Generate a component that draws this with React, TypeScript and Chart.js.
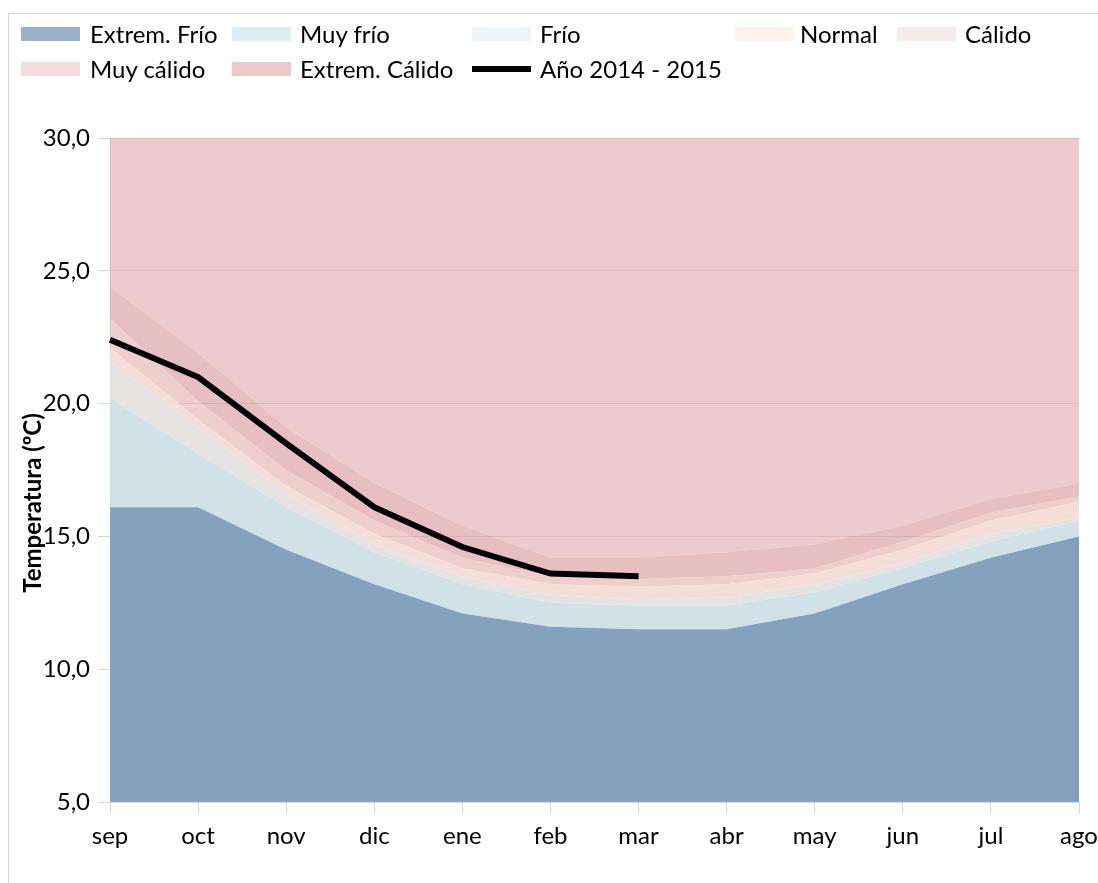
import React, { useEffect, useRef } from 'react';
import { Chart, registerables } from 'chart.js';

Chart.register(...registerables);

const months = ['sep', 'oct', 'nov', 'dic', 'ene', 'feb', 'mar', 'abr', 'may', 'jun', 'jul', 'ago'];

// Upper limit of each band (ºC)
const extremFrio = [16.1, 16.1, 14.5, 13.2, 12.1, 11.6, 11.5, 11.5, 12.1, 13.2, 14.2, 15.0];
const muyFrio = [20.2, 18.1, 16.1, 14.4, 13.2, 12.5, 12.4, 12.4, 12.9, 13.8, 14.8, 15.6];
const frio = [21.6, 19.1, 16.6, 14.7, 13.5, 12.8, 12.6, 12.7, 13.2, 14.0, 15.1, 15.7];
const normal = [22.1, 19.4, 16.9, 15.1, 13.8, 13.2, 13.1, 13.2, 13.6, 14.5, 15.6, 16.3];
const calido = [23.2, 20.1, 17.5, 15.6, 14.2, 13.5, 13.4, 13.5, 13.8, 14.8, 15.9, 16.5];
const muyCalido = [24.4, 21.9, 19.1, 17.0, 15.4, 14.2, 14.2, 14.4, 14.7, 15.4, 16.4, 17.0];
const extremCalido = [30, 30, 30, 30, 30, 30, 30, 30, 30, 30, 30, 30];

const anio20142015 = [22.4, 21.0, 18.5, 16.1, 14.6, 13.6, 13.5, null, null, null, null, null];

const yMin = 5;
const yMax = 30;
const yStep = 5;

const bandNames = ['Extrem. Frío', 'Muy frío', 'Frío', 'Normal', 'Cálido', 'Muy cálido', 'Extrem. Cálido'];
const bandValues = [extremFrio, muyFrio, frio, normal, calido, muyCalido, extremCalido];
const bandFill = [
  '#84A1BD',
  '#D0E2E7',
  '#E6E3E3',
  '#F5DDD8',
  'rgba(228,174,174,0.6)',
  'rgba(216,148,152,0.6)',
  'rgba(225,167,168,0.6)',
];
const legendSwatch = ['#9BB1C9', '#DAEEF3', '#EEF6F9', '#FDF3EB', '#F8E9EA', '#F2DCDD', '#EEC9CA'];
const lineName = 'Año 2014 - 2015';
const yTitle = 'Temperatura (ºC)';

const FONT = 'Lato, "Open Sans", sans-serif';

type LegendItem = { name: string; sx: number; tx: number; cy: number; color?: string; line?: boolean };
const legendItems: LegendItem[] = [
  { name: bandNames[0], sx: 21, tx: 90, cy: 34, color: legendSwatch[0] },
  { name: bandNames[1], sx: 232, tx: 300, cy: 34, color: legendSwatch[1] },
  { name: bandNames[2], sx: 472, tx: 540, cy: 34, color: legendSwatch[2] },
  { name: bandNames[3], sx: 735, tx: 800, cy: 34, color: legendSwatch[3] },
  { name: bandNames[4], sx: 897, tx: 965, cy: 34, color: legendSwatch[4] },
  { name: bandNames[5], sx: 21, tx: 90, cy: 69, color: legendSwatch[5] },
  { name: bandNames[6], sx: 232, tx: 300, cy: 69, color: legendSwatch[6] },
  { name: lineName, sx: 472, tx: 540, cy: 69, line: true },
];

export default function App() {
  const ref = useRef<HTMLCanvasElement | null>(null);

  useEffect(() => {
    if (!ref.current) return;
    const datasets: any[] = bandValues.map((vals, i) => ({
      label: bandNames[i],
      data: vals,
      backgroundColor: bandFill[i],
      borderWidth: 0,
      pointRadius: 0,
      tension: 0,
      fill: i === 0 ? 'start' : '-1',
      order: 1,
    }));
    datasets.push({
      label: lineName,
      data: anio20142015,
      borderColor: '#000000',
      backgroundColor: '#000000',
      borderWidth: 6,
      pointRadius: 0,
      tension: 0,
      fill: false,
      order: 0,
    });

    const chart = new Chart(ref.current, {
      type: 'line',
      data: { labels: months, datasets },
      options: {
        animation: false,
        responsive: false,
        devicePixelRatio: 1,
        layout: { padding: { top: 138, right: 41, bottom: 0, left: 0 } },
        plugins: { legend: { display: false }, tooltip: { enabled: false } },
        scales: {
          x: {
            type: 'category',
            offset: false,
            grid: { display: true, drawOnChartArea: false, drawTicks: true, tickLength: 11, color: '#D9D9D9' },
            border: { display: true, color: '#D9D9D9' },
            ticks: { color: '#000', font: { family: FONT, size: 24 }, padding: 9, maxRotation: 0, autoSkip: false },
            afterFit: (s: any) => {
              s.height = 81;
            },
          },
          y: {
            min: yMin,
            max: yMax,
            grid: { color: '#D9D9D9', tickLength: 12, drawTicks: true },
            border: { display: true, color: '#D9D9D9' },
            ticks: {
              stepSize: yStep,
              color: '#000',
              font: { family: FONT, size: 24 },
              padding: 8,
              callback: (v: any) => Number(v).toFixed(1).replace('.', ','),
            },
            afterFit: (s: any) => {
              s.width = 110;
            },
          },
        },
      },
    });
    return () => chart.destroy();
  }, []);

  return (
    <div
      style={{
        position: 'fixed',
        left: 0,
        top: 0,
        width: 1098,
        height: 883,
        overflow: 'hidden',
        background: '#fff',
        fontFamily: FONT,
      }}
    >
      <div
        style={{
          position: 'absolute',
          left: 8,
          top: 13,
          width: 1200,
          height: 1000,
          border: '1px solid #D9D9D9',
          boxSizing: 'border-box',
        }}
      />
      <canvas ref={ref} width={1120} height={883} style={{ position: 'absolute', left: 0, top: 0, width: 1120, height: 883 }} />
      <div
        style={{
          position: 'absolute',
          left: 32 - 160,
          top: 503 - 15,
          width: 320,
          height: 30,
          lineHeight: '30px',
          textAlign: 'center',
          fontSize: 24,
          fontWeight: 'bold',
          color: '#000',
          whiteSpace: 'nowrap',
          transform: 'rotate(-90deg)',
          transformOrigin: '50% 50%',
        }}
      >
        {yTitle}
      </div>
      {legendItems.map((it) => (
        <React.Fragment key={it.name}>
          <div
            style={{
              position: 'absolute',
              left: it.sx,
              top: it.line ? it.cy - 3 : it.cy - 7,
              width: 59,
              height: it.line ? 6 : 14,
              background: it.line ? '#000' : it.color,
            }}
          />
          <div
            style={{
              position: 'absolute',
              left: it.tx,
              top: it.cy - 14.4,
              fontSize: 24,
              lineHeight: '28.8px',
              color: '#000',
              whiteSpace: 'nowrap',
            }}
          >
            {it.name}
          </div>
        </React.Fragment>
      ))}
    </div>
  );
}
